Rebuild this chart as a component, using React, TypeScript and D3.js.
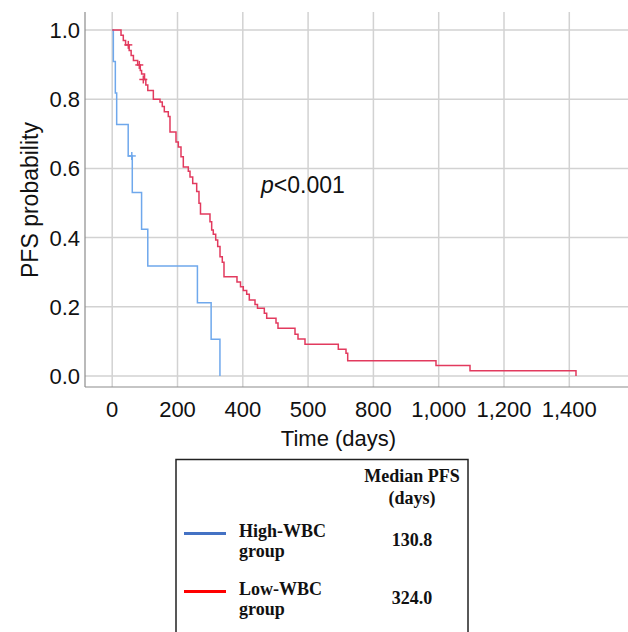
import React from "react";
import * as d3 from "d3";

// High-WBC group: event times (days) and survival after each event
const highTimes = [0, 3.5, 9.6, 13.7, 49, 61.5, 90, 109, 261, 303, 330];
const highSurv = [1, 0.909, 0.818, 0.727, 0.636, 0.53, 0.424, 0.318, 0.212, 0.106, 0];
const highCensorTimes = [60];
const highCensorSurv = [0.636];

// Low-WBC group
const lowTimes = [
  0, 27, 34, 41, 52, 58, 65, 78, 86, 90, 99, 103, 109, 126, 146.4, 153.4, 159.6, 171.8, 177,
  195.4, 202.5, 210.7, 217.8, 233.1, 238.3, 246.6, 258.8, 265.8, 270.4, 299.5, 304.7, 309.6,
  317, 323.1, 330.2, 337.2, 342.4, 382.2, 393, 401.5, 411.9, 419.9, 437.4, 445, 465.9, 473.2,
  501.7, 507.8, 559.9, 569.1, 590.5, 692.5, 716.1, 721.3, 991.7, 1095.9, 1420.5,
];
const lowSurv = [
  1, 0.985, 0.97, 0.957, 0.941, 0.926, 0.912, 0.899, 0.883, 0.873, 0.857, 0.841, 0.825, 0.8,
  0.792, 0.779, 0.764, 0.75, 0.705, 0.676, 0.662, 0.634, 0.604, 0.592, 0.575, 0.556, 0.533,
  0.499, 0.468, 0.446, 0.422, 0.41, 0.393, 0.374, 0.345, 0.329, 0.287, 0.272, 0.258, 0.247,
  0.236, 0.22, 0.207, 0.196, 0.181, 0.167, 0.153, 0.138, 0.121, 0.107, 0.092, 0.077, 0.066,
  0.044, 0.03, 0.015, 0,
];
const lowCensorTimes = [49.3, 83, 95.3];
const lowCensorSurv = [0.957, 0.899, 0.857];

const xTickValues = [0, 200, 400, 600, 800, 1000, 1200, 1400];
const xTickLabels = ["0", "200", "400", "500", "800", "1,000", "1,200", "1,400"];
const yTickValues = [0, 0.2, 0.4, 0.6, 0.8, 1.0];

const groups = ["High-WBC", "Low-WBC"];
const medians = ["130.8", "324.0"];

const W = 628;
const H = 632;
const frame = { left: 85, top: 12, right: 628, bottom: 387 };

const sansFont = "'Liberation Sans', Arial, sans-serif";
const serifFont = "'Liberation Serif', 'Times New Roman', serif";

const App = () => {
  const x = d3.scaleLinear().domain([0, 1400]).range([112.2, 569.3]);
  const y = d3.scaleLinear().domain([0, 1]).range([376, 30]);

  const line = d3
    .line<[number, number]>()
    .x((d) => x(d[0]))
    .y((d) => y(d[1]))
    .curve(d3.curveStepAfter);

  const highPts = highTimes.map((t, i) => [t, highSurv[i]] as [number, number]);
  const lowPts = lowTimes.map((t, i) => [t, lowSurv[i]] as [number, number]);

  const blue = "#6fa8ec";
  const red = "#e23a5e";

  const cross = (cx: number, cy: number, color: string, key: string) => (
    <g key={key} stroke={color} strokeWidth={1.5}>
      <line x1={cx - 4} x2={cx + 4} y1={cy} y2={cy} />
      <line x1={cx} x2={cx} y1={cy - 4} y2={cy + 4} />
    </g>
  );

  return (
    <svg width={W} height={H} style={{ position: "absolute", left: 0, top: 0 }}>
      <rect width={W} height={H} fill="#fff" />
      {/* grid */}
      {yTickValues.map((v) => (
        <line key={"gy" + v} x1={frame.left} x2={frame.right} y1={y(v)} y2={y(v)} stroke="#d2d2d2" strokeWidth={1.5} />
      ))}
      {xTickValues.map((v) => (
        <line key={"gx" + v} x1={x(v)} x2={x(v)} y1={frame.top} y2={frame.bottom} stroke="#d2d2d2" strokeWidth={1.5} />
      ))}
      {/* axes */}
      <line x1={frame.left} x2={frame.left} y1={frame.top} y2={frame.bottom} stroke="#8c8c8c" strokeWidth={1.2} />
      <line x1={frame.left} x2={frame.right} y1={frame.bottom} y2={frame.bottom} stroke="#8c8c8c" strokeWidth={1.2} />

      {/* curves */}
      <path d={line(highPts) || ""} fill="none" stroke={blue} strokeWidth={1.5} />
      <path d={line(lowPts) || ""} fill="none" stroke={red} strokeWidth={1.5} />
      {highCensorTimes.map((t, i) => cross(x(t), y(highCensorSurv[i]), blue, "hc" + i))}
      {lowCensorTimes.map((t, i) => cross(x(t), y(lowCensorSurv[i]), red, "lc" + i))}

      {/* tick labels */}
      <g fontFamily={sansFont} fontSize={22} fill="#111">
        {yTickValues.map((v) => (
          <text key={"ty" + v} x={80} y={y(v) + 8} textAnchor="end">
            {d3.format(".1f")(v)}
          </text>
        ))}
        {xTickValues.map((v, i) => (
          <text key={"tx" + v} x={x(v)} y={417} textAnchor="middle">
            {xTickLabels[i]}
          </text>
        ))}
        <text x={(frame.left + frame.right) / 2 - 18} y={446} textAnchor="middle" fontSize={22}>
          Time (days)
        </text>
        <text transform="translate(38,200) rotate(-90)" textAnchor="middle" fontSize={23}>
          PFS probability
        </text>
        <text x={261} y={193} fontSize={23}>
          <tspan fontStyle="italic">p</tspan>&lt;0.001
        </text>
      </g>

      {/* legend table */}
      <rect x={176} y={459.5} width={292} height={200} fill="none" stroke="#222" strokeWidth={1.5} />
      <g fontFamily={serifFont} fontSize={18} fontWeight="bold" fill="#111">
        <text x={412} y={482} textAnchor="middle">Median PFS</text>
        <text x={412} y={504} textAnchor="middle">(days)</text>
        {groups.map((g, i) => (
          <g key={g} transform={`translate(0,${i * 58})`}>
            <line x1={184} x2={226} y1={533.5} y2={533.5} stroke={i === 0 ? "#4472c4" : "#ff0000"} strokeWidth={3} />
            <text x={239} y={537}>{g}</text>
            <text x={239} y={557}>group</text>
            <text x={412} y={546} textAnchor="middle">{medians[i]}</text>
          </g>
        ))}
      </g>
    </svg>
  );
};

export default App;
